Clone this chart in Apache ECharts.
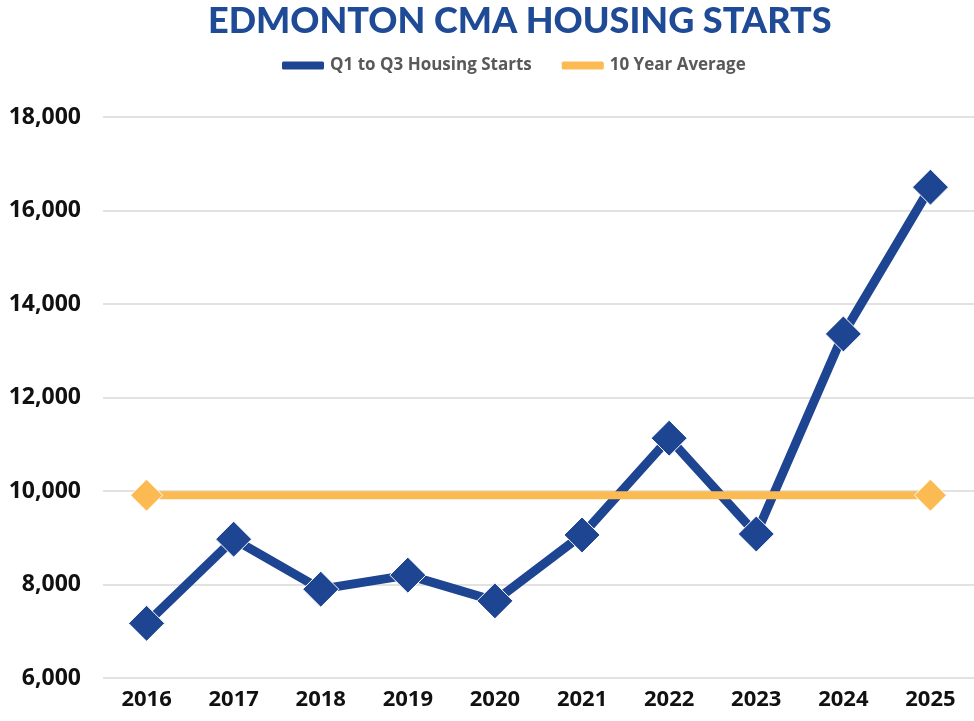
<!DOCTYPE html>
<html>
<head>
<meta charset="utf-8">
<title>Edmonton CMA Housing Starts</title>
<script src="https://cdn.jsdelivr.net/npm/echarts@6/dist/echarts.min.js"></script>
<style>
  html, body { margin: 0; padding: 0; background: #fff; }
  #chart { width: 974px; height: 721px; }
</style>
</head>
<body>
<div id="chart"></div>
<script>
// values
const years = ['2016', '2017', '2018', '2019', '2020', '2021', '2022', '2023', '2024', '2025'];
const starts = [7170, 8970, 7900, 8200, 7650, 9060, 11130, 9080, 13360, 16500];
const tenYearAvg = [9910, 9910, 9910, 9910, 9910, 9910, 9910, 9910, 9910, 9910];

const blue = '#1E4591';
const orange = '#FBBA52';

const chart = echarts.init(document.getElementById('chart'));

const option = {
    animation: false,
    title: {
        text: 'EDMONTON CMA HOUSING STARTS',
        left: 203,
        top: -2,
        textStyle: {
            color: '#1F4A96',
            fontFamily: 'Lato',
            fontWeight: 900,
            fontSize: 36
        }
    },
    legend: {
        top: 52,
        left: 275,
        itemGap: 28,
        itemWidth: 44,
        itemHeight: 10,
        textStyle: {
            color: '#595959',
            fontFamily: 'Open Sans',
            fontWeight: 'bold',
            fontSize: 17
        },
        data: [
            { name: 'Q1 to Q3 Housing Starts', icon: 'roundRect', itemStyle: { color: blue } },
            { name: '10 Year Average', icon: 'roundRect', itemStyle: { color: orange } }
        ]
    },
    grid: {
        left: 103,
        right: -4,
        top: 117,
        bottom: 43
    },
    xAxis: {
        type: 'category',
        data: years,
        axisLine: { show: false },
        axisTick: { show: false },
        axisLabel: {
            color: '#111',
            fontFamily: 'Open Sans',
            fontWeight: 'bold',
            fontSize: 22,
            margin: 11
        }
    },
    yAxis: {
        type: 'value',
        min: 6000,
        max: 18000,
        interval: 2000,
        axisLine: { show: false },
        axisTick: { show: false },
        splitLine: { lineStyle: { color: '#D9D9D9', width: 1.5 } },
        axisLabel: {
            color: '#111',
            fontFamily: 'Open Sans',
            fontWeight: 'bold',
            fontSize: 23,
            margin: 22,
            formatter: v => v.toLocaleString('en-US')
        }
    },
    series: [
        {
            name: 'Q1 to Q3 Housing Starts',
            type: 'line',
            data: starts,
            symbol: 'diamond',
            symbolSize: 36,
            z: 2,
            lineStyle: { color: blue, width: 9 },
            itemStyle: { color: blue, borderColor: '#fff', borderWidth: 1 }
        },
        {
            name: '10 Year Average',
            type: 'line',
            data: tenYearAvg,
            symbol: (v, p) => (p.dataIndex === 0 || p.dataIndex === tenYearAvg.length - 1) ? 'diamond' : 'none',
            symbolSize: 32,
            z: 3,
            lineStyle: { color: orange, width: 8 },
            itemStyle: { color: orange, borderColor: '#fff', borderWidth: 1 }
        }
    ]
};

chart.setOption(option);
</script>
</body>
</html>
